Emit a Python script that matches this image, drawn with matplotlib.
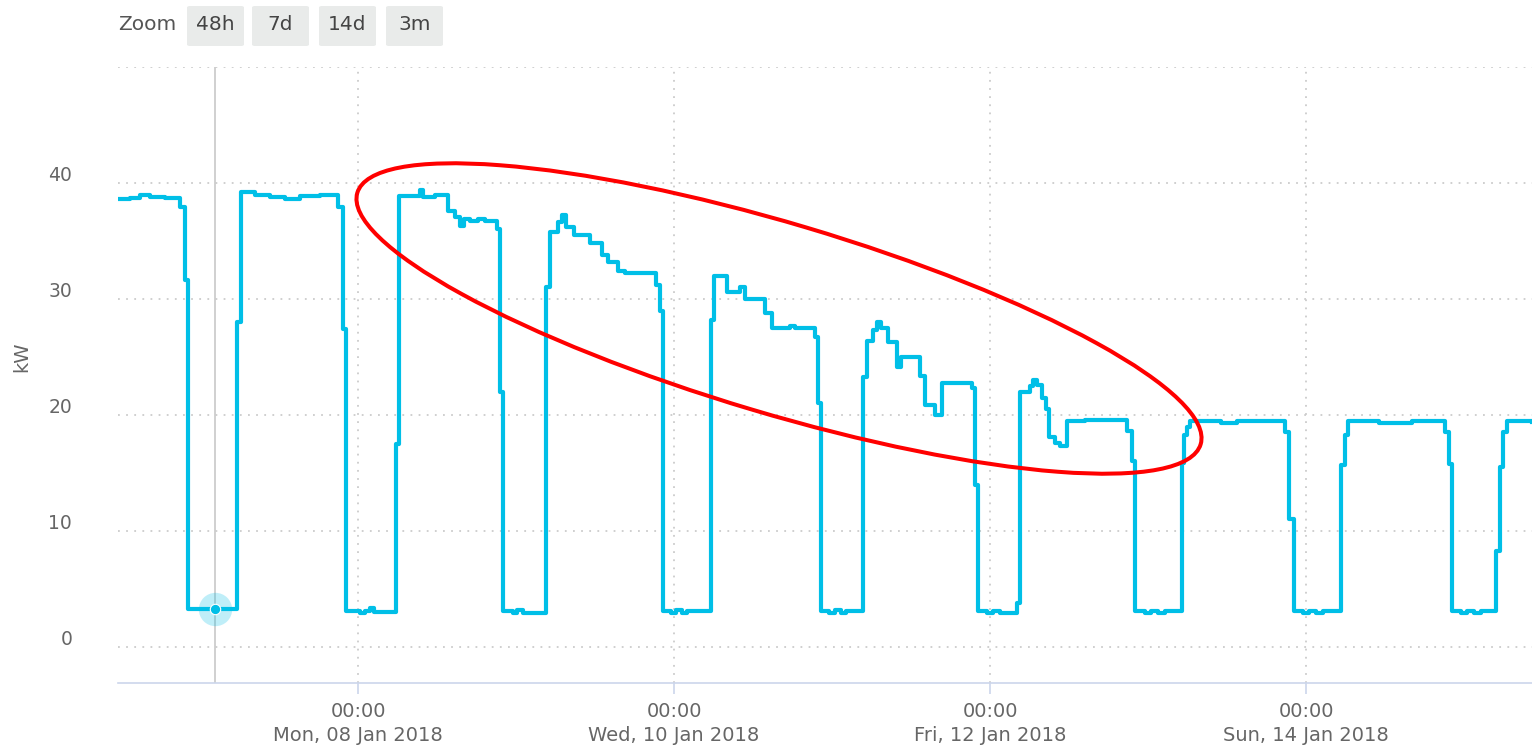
import numpy as np
import pandas as pd
import matplotlib
matplotlib.use("Agg")
import matplotlib.pyplot as plt
import matplotlib.dates as mdates
from matplotlib.patches import Ellipse, FancyBboxPatch
from matplotlib.transforms import ScaledTranslation

# ---------------------------------------------------------------------------
# Data: power [kW], step series, time in hours after Mon 08 Jan 2018 00:00
# ---------------------------------------------------------------------------
T0 = pd.Timestamp("2018-01-08 00:00")

hours = [
    -36.5, -34.6, -33.1, -31.6, -29.3, -27.0, -26.3, -25.8,
    -18.4, -17.8, -15.6, -13.4, -11.1, -8.8, -5.8, -3.0, -2.3, -1.8,
    0.3, 1.0, 1.8, 2.4, 5.8, 6.2,
    9.4, 9.9, 11.7, 13.7, 14.7, 15.5, 16.1, 17.0, 18.2, 19.3, 21.1, 21.6, 22.0,
    23.5, 24.2, 25.0, 28.6, 29.2, 30.4, 31.0, 31.6, 32.8, 35.2, 37.1, 38.0,
    39.5, 40.6, 45.3, 45.9, 46.3,
    47.5, 48.3, 49.2, 50.0, 53.6, 54.1, 56.1, 58.0, 58.8, 61.8, 62.9, 65.6,
    66.4, 69.4, 69.9, 70.3,
    71.5, 72.4, 73.3, 74.1, 76.7, 77.3, 78.2, 78.8, 79.4, 80.5, 81.9, 82.5,
    85.4, 86.1, 87.6, 88.7, 93.3, 93.7, 94.2,
    95.5, 96.5, 97.5, 100.1, 100.6, 102.1, 102.5, 103.1, 103.9, 104.5, 105.0,
    105.9, 106.6, 107.7, 110.4, 116.8, 117.6, 118.0,
    119.5, 120.5, 121.5, 122.5, 125.2, 125.5, 125.9, 126.4, 131.0, 133.5,
    140.8, 141.4, 142.2,
    143.5, 144.5, 145.5, 146.5, 149.3, 149.9, 150.4, 155.0, 160.0, 165.1,
    165.7, 166.2,
    167.5, 168.5, 169.5, 170.5, 172.9, 173.5, 173.9, 174.5, 178.3,
]

kw = [
    38.6, 38.7, 39.0, 38.8, 38.7, 37.9, 31.6, 3.3,
    28.0, 39.2, 39.0, 38.8, 38.6, 38.9, 39.0, 37.9, 27.4, 3.1,
    2.9, 3.1, 3.4, 3.0, 17.5, 38.9,
    39.4, 38.8, 39.0, 37.6, 37.1, 36.3, 36.9, 36.7, 36.9, 36.7, 36.0, 22.0, 3.1,
    2.9, 3.2, 2.9, 31.0, 35.8, 36.6, 37.2, 36.2, 35.5, 34.8, 33.8, 33.2,
    32.4, 32.2, 31.2, 29.0, 3.1,
    2.9, 3.2, 2.9, 3.1, 28.2, 32.0, 30.6, 31.0, 30.0, 28.8, 27.5, 27.7,
    27.5, 26.7, 21.0, 3.1,
    2.9, 3.2, 2.9, 3.1, 23.3, 26.4, 27.3, 28.0, 27.5, 26.3, 24.1, 25.0,
    23.4, 20.9, 20.0, 22.8, 22.3, 14.0, 3.1,
    2.9, 3.1, 2.9, 3.8, 22.0, 22.5, 23.0, 22.6, 21.5, 20.5, 18.1,
    17.6, 17.3, 19.5, 19.6, 18.6, 16.0, 3.1,
    2.9, 3.1, 2.9, 3.1, 15.9, 18.3, 19.0, 19.5, 19.3, 19.5,
    18.5, 11.0, 3.1,
    2.9, 3.1, 2.9, 3.1, 15.7, 18.3, 19.5, 19.3, 19.5, 18.5,
    15.8, 3.1,
    2.9, 3.1, 2.9, 3.1, 8.3, 15.5, 18.5, 19.5, 19.4,
]

hover_hour, hover_kw = -21.7, 3.3          # highlighted point
x_range_hours = (-36.46, 178.3)
y_range = (-3.1, 50)
y_ticks = [0, 10, 20, 30, 40, 50]
y_labels = ["0", "10", "20", "30", "40", ""]
x_tick_days = ["2018-01-08", "2018-01-10", "2018-01-12", "2018-01-14"]
zoom_buttons = ["48h", "7d", "14d", "3m"]

LINE = "#00bfe7"
GRID = "#cccccc"
AXIS = "#ccd6eb"
TEXT = "#666666"

# ---------------------------------------------------------------------------
plt.rcParams["font.family"] = ["DejaVu Sans"]

W, H = 1532, 754
fig = plt.figure(figsize=(W / 100, H / 100), dpi=100)
ax = fig.add_axes([118 / W, 71 / H, 1414 / W, 616 / H])

times = T0 + pd.to_timedelta(hours, unit="h")
ax.plot(times, kw, drawstyle="steps-post", color=LINE, lw=3.0,
        solid_joinstyle="round", zorder=3)

# crosshair + hovered point
t_hover = T0 + pd.Timedelta(hours=hover_hour)
ax.axvline(t_hover, color="#c8c8c8", lw=1.2, zorder=2)
ax.plot([t_hover], [hover_kw], "o", ms=24, color=LINE, alpha=0.25, mec="none", zorder=4)
ax.plot([t_hover], [hover_kw], "o", ms=7.5, color=LINE, mec="white", mew=0.8, zorder=5)

ax.set_xlim(T0 + pd.Timedelta(hours=x_range_hours[0]),
            T0 + pd.Timedelta(hours=x_range_hours[1]))
ax.set_ylim(*y_range)

# y axis
ax.set_yticks(y_ticks)
ax.set_yticklabels(y_labels)
ax.tick_params(axis="y", length=0, pad=33, labelsize=13.5, labelcolor=TEXT)
for lab in ax.get_yticklabels():
    lab.set_transform(lab.get_transform() + ScaledTranslation(0, 0.10, fig.dpi_scale_trans))
ax.grid(axis="y", color=GRID, ls=(0, (1, 3.5)), lw=1.3)
fig.text(22 / W, 1 - 357 / H, "kW", rotation=90, fontsize=14, color=TEXT,
         ha="center", va="center")

# x axis
ax.set_xticks(pd.to_datetime(x_tick_days))
ax.xaxis.set_major_formatter(mdates.DateFormatter("%H:%M\n%a, %d %b %Y"))
ax.tick_params(axis="x", length=8, width=1.2, color=AXIS, pad=6,
               labelsize=14, labelcolor=TEXT)
for lab in ax.get_xticklabels():
    lab.set_linespacing(1.3)
ax.grid(axis="x", color=GRID, ls=(0, (1, 3.5)), lw=1.3)

for side in ("top", "right", "left"):
    ax.spines[side].set_visible(False)
ax.spines["bottom"].set_color(AXIS)
ax.spines["bottom"].set_linewidth(1.2)

# red highlight ellipse (annotation, drawn in figure pixels)
ell = Ellipse((779 / 100, (H - 318.5) / 100), width=8.8, height=1.9, angle=-16.6,
              transform=fig.dpi_scale_trans, fill=False, ec="#ff0000", lw=2.9)
fig.add_artist(ell)

# range selector buttons
fig.text(118 / W, 1 - 25 / H, "Zoom", fontsize=14.5, color="#555555",
         ha="left", va="center")
bx = [187, 252, 319, 386]
for x0, lbl in zip(bx, zoom_buttons):
    box = FancyBboxPatch((x0 / W, 1 - 46 / H), 57 / W, 40 / H,
                         boxstyle="round,pad=0,rounding_size=0.002",
                         transform=fig.transFigure, fc="#e9ebea", ec="none")
    fig.add_artist(box)
    fig.text((x0 + 28.5) / W, 1 - 24 / H, lbl, fontsize=14.5, color="#444444",
             ha="center", va="center")

fig.savefig("out.png", dpi=100)
